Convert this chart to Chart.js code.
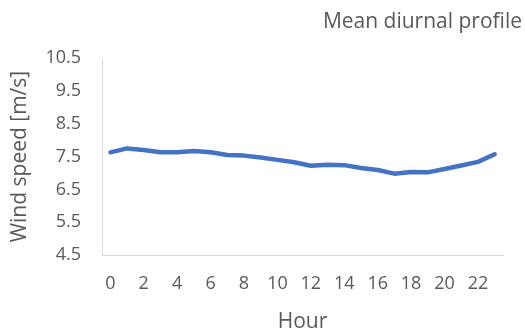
<!DOCTYPE html>
<html>
<head>
<meta charset="utf-8">
<script src="https://cdn.jsdelivr.net/npm/chart.js@4"></script>
<style>
  body { margin: 0; background: #fff; }
</style>
</head>
<body>
<canvas id="myChart" width="525" height="329"></canvas>
<script>
var hours = [];
for (var h = 0; h < 24; h++) hours.push(String(h));

var windSpeed = [7.63, 7.75, 7.70, 7.63, 7.63, 7.67, 7.63, 7.55, 7.53, 7.47, 7.40, 7.33,
                 7.22, 7.25, 7.24, 7.15, 7.09, 6.98, 7.03, 7.02, 7.12, 7.23, 7.34, 7.57];

var yTicks = [4.5, 5.5, 6.5, 7.5, 8.5, 9.5, 10.5];

var grey = '#595959';
var fontName = 'Open Sans';

var ctx = document.getElementById('myChart');
var myChart = new Chart(ctx, {
    type: 'line',
    data: {
        labels: hours,
        datasets: [{
            label: 'Wind speed',
            data: windSpeed,
            borderColor: '#4472C4',
            borderWidth: 4.5,
            pointRadius: 0,
            tension: 0,
            borderCapStyle: 'round',
            borderJoinStyle: 'round'
        }]
    },
    options: {
        responsive: false,
        animation: false,
        layout: { padding: { left: 0, right: 3, top: 0, bottom: 0 } },
        plugins: {
            legend: { display: false },
            tooltip: { enabled: false },
            title: {
                display: true,
                text: 'Mean diurnal profile',
                align: 'end',
                color: grey,
                font: { family: fontName, size: 21, weight: 'normal' },
                padding: { top: 9, bottom: 24 }
            }
        },
        scales: {
            x: {
                offset: true,
                grid: { display: false },
                border: { display: true, color: '#d9d9d9', width: 1 },
                afterFit: function (axis) { axis.height = 74; },
                ticks: {
                    color: grey,
                    font: { family: fontName, size: 18 },
                    autoSkip: false,
                    maxRotation: 0,
                    padding: 10,
                    callback: function (val, i) {
                        return i % 2 === 0 ? hours[i] : '';
                    }
                },
                title: {
                    display: true,
                    text: 'Hour',
                    color: grey,
                    font: { family: fontName, size: 21, lineHeight: 1 },
                    padding: { top: 8, bottom: -4 }
                }
            },
            y: {
                min: yTicks[0],
                max: yTicks[yTicks.length - 1],
                grid: { display: false },
                border: { display: true, color: '#d9d9d9', width: 1 },
                afterFit: function (axis) { axis.width = 102; },
                afterBuildTicks: function (axis) {
                    axis.ticks = yTicks.map(function (v) { return { value: v }; });
                },
                ticks: {
                    color: grey,
                    font: { family: fontName, size: 18 },
                    padding: 13,
                    callback: function (v) { return Number(v).toFixed(1); }
                },
                title: {
                    display: true,
                    text: 'Wind speed [m/s]',
                    color: grey,
                    font: { family: fontName, size: 21 },
                    padding: { top: 7, bottom: 4 }
                }
            },
            yR: {
                position: 'right',
                display: true,
                grid: { display: false },
                border: { display: false },
                ticks: { display: false },
                afterFit: function (axis) { axis.width = 19; }
            }
        }
    }
});
</script>
</body>
</html>
